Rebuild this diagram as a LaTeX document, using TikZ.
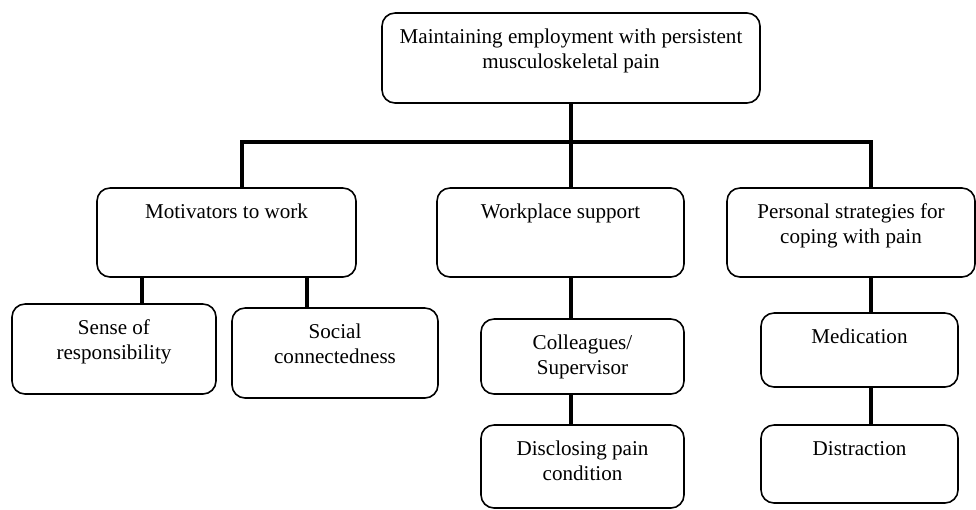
\documentclass[tikz,border=0pt]{standalone}
\usepackage{fontspec}
\setmainfont{Liberation Serif}
\newcommand{\toptxt}[2]{\vbox to #1{\hbox{\begin{tabular}[t]{@{}c@{}}#2\end{tabular}}\vfil}}
\begin{document}
\begin{tikzpicture}[
  box/.style  = {draw, rounded corners=0.26cm, line width=0.9pt,
                 inner xsep=0pt, inner ysep=0.25cm,
                 font=\fontsize{12}{14.5}\selectfont},
  wire/.style = {line width=2.4pt}
]
  \useasboundingbox (0,0) rectangle (19.52,-10.18);

  % Caixa principal
  \node[box, minimum width=7.56cm] (top) at (11.42,-1.16)
       {\toptxt{1.3cm}{Maintaining employment with persistent\\musculoskeletal pain}};

  % Temas
  \node[box, minimum width=5.18cm] (mot)  at (4.53,-4.65)  {\toptxt{1.28cm}{Motivators to work}};
  \node[box, minimum width=4.94cm] (work) at (11.21,-4.65) {\toptxt{1.28cm}{Workplace support}};
  \node[box, minimum width=4.96cm] (pers) at (17.02,-4.65)
       {\toptxt{1.28cm}{Personal strategies for\\coping with pain}};

  % Subtemas
  \node[box, minimum width=4.08cm] (sense) at (2.28,-6.98)  {\toptxt{1.3cm}{Sense of\\responsibility}};
  \node[box, minimum width=4.12cm] (soc)   at (6.70,-7.06)  {\toptxt{1.3cm}{Social\\connectedness}};
  \node[box, minimum width=4.06cm] (coll)  at (11.65,-7.13) {\toptxt{1.0cm}{Colleagues/\\Supervisor}};
  \node[box, minimum width=4.06cm] (disc)  at (11.65,-9.33) {\toptxt{1.16cm}{Disclosing pain\\condition}};
  \node[box, minimum width=3.94cm] (med)   at (17.19,-7.00) {\toptxt{0.98cm}{Medication}};
  \node[box, minimum width=3.94cm] (dist)  at (17.19,-9.28) {\toptxt{1.06cm}{Distraction}};

  % Barra horizontal
  \coordinate (barL) at (4.84,-2.84);
  \coordinate (barR) at (17.42,-2.84);

  % Fios
  \draw[wire] (barL |- mot.north) -- (barL) -- (barR) -- (barR |- pers.north);
  \draw[wire] (top.south) -- (top.south |- work.north);
  \draw[wire] ([xshift=-1.69cm]mot.south) -- ([xshift=-1.69cm]mot.south |- sense.north);
  \draw[wire] ([xshift=1.61cm]mot.south) -- ([xshift=1.61cm]mot.south |- soc.north);
  \draw[wire] (top.south |- work.south) -- (top.south |- coll.north);
  \draw[wire] (top.south |- coll.south) -- (top.south |- disc.north);
  \draw[wire] (barR |- pers.south) -- (barR |- med.north);
  \draw[wire] (barR |- med.south) -- (barR |- dist.north);
\end{tikzpicture}
\end{document}
